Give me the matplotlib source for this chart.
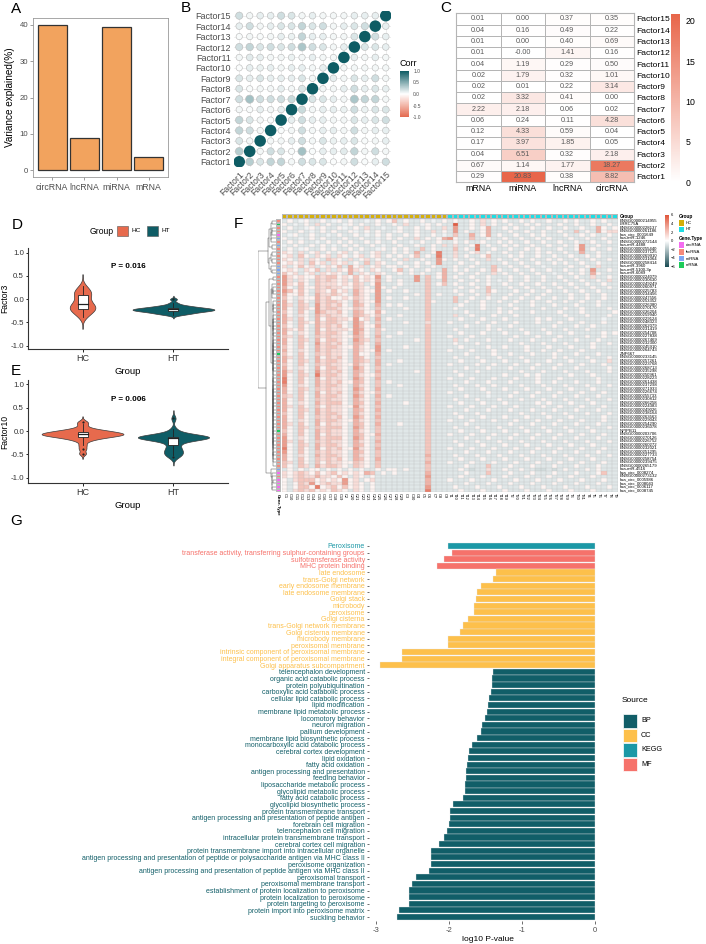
import numpy as np
import matplotlib
matplotlib.use("Agg")
import matplotlib.pyplot as plt
from matplotlib.colors import LinearSegmentedColormap, ListedColormap, Normalize
from matplotlib.patches import Rectangle
from matplotlib.cm import ScalarMappable

plt.rcParams['font.family'] = ['Liberation Sans', 'DejaVu Sans']
plt.rcParams['axes.linewidth'] = 0.6

# ======================= DATA =======================
# --- A
views = ['circRNA', 'lncRNA', 'miRNA', 'mRNA']
var_explained = [40.0, 8.9, 39.4, 3.7]

# --- B (lower triangle of factor correlation, row i has i values)
factor_names = ['Factor1', 'Factor2', 'Factor3', 'Factor4', 'Factor5', 'Factor6', 'Factor7', 'Factor8',
                'Factor9', 'Factor10', 'Factor11', 'Factor12', 'Factor13', 'Factor14', 'Factor15']
corr_lower = [
    [],
    [0.30],
    [0.15, 0.05],
    [0.25, 0.20, 0.05],
    [0.25, 0.15, 0.05, 0.03],
    [0.05, 0.03, 0.10, 0.05, 0.10],
    [0.20, 0.38, 0.20, 0.20, 0.20, 0.22],
    [0.15, 0.03, 0.05, 0.05, 0.10, 0.05, 0.15],
    [0.15, 0.10, 0.15, 0.10, 0.10, 0.10, 0.15, 0.05],
    [0.02, 0.10, 0.08, 0.10, 0.05, 0.10, 0.10, 0.05, 0.10],
    [0.05, 0.12, 0.10, 0.05, 0.05, 0.08, 0.05, 0.10, 0.05, 0.05],
    [0.20, 0.25, 0.15, 0.20, 0.15, 0.20, 0.35, 0.20, 0.15, 0.05, 0.10],
    [0.03, 0.05, 0.03, 0.05, 0.10, 0.08, 0.25, 0.10, 0.10, 0.05, 0.05, 0.15],
    [0.10, 0.20, 0.05, 0.10, 0.15, 0.15, 0.25, 0.15, 0.20, 0.05, 0.10, 0.15, 0.20],
    [0.20, 0.05, 0.10, 0.10, 0.20, 0.15, 0.05, 0.10, 0.05, 0.05, 0.05, 0.10, 0.10, 0.10],
]

# --- C (variance explained per factor and view), rows top->bottom
c_factors = ['Factor15', 'Factor14', 'Factor13', 'Factor12', 'Factor11', 'Factor10', 'Factor9', 'Factor8',
             'Factor7', 'Factor6', 'Factor5', 'Factor4', 'Factor3', 'Factor2', 'Factor1']
c_views = ['mRNA', 'miRNA', 'lncRNA', 'circRNA']
c_mrna = [0.01, 0.04, 0.01, 0.01, 0.04, 0.02, 0.02, 0.02, 2.22, 0.06, 0.12, 0.17, 0.04, 0.67, 0.29]
c_mirna = [0.00, 0.16, 0.00, -0.0, 1.19, 1.79, 0.01, 3.32, 2.18, 0.24, 4.33, 3.97, 6.51, 1.14, 20.83]
c_lnc = [0.37, 0.49, 0.40, 1.41, 0.29, 0.32, 0.22, 0.41, 0.06, 0.11, 0.59, 1.85, 0.32, 1.77, 0.38]
c_circ = [0.35, 0.22, 0.69, 0.16, 0.50, 1.01, 3.14, 0.00, 0.02, 4.28, 0.04, 0.05, 2.18, 18.27, 8.82]

# --- D / E (factor values per sample)
groups = ['HC', 'HT']
f3_hc = [0.28, 0.25, 0.21, 0.18, 0.16, 0.14, 0.12, 0.10, 0.08, 0.05, 0.02, -0.02, -0.06, -0.09, -0.10,
         -0.11, -0.13, -0.15, -0.17, -0.18, -0.20, -0.21, -0.22, -0.23, -0.24, -0.26, -0.29, -0.32, -0.36, -0.38]
f3_ht = [0.00, -0.08, -0.12, -0.14, -0.15, -0.16, -0.17, -0.18, -0.19, -0.19, -0.20, -0.20, -0.21, -0.21,
         -0.22, -0.22, -0.23, -0.23, -0.24, -0.24, -0.25, -0.25, -0.26, -0.26, -0.27, -0.28, -0.29, -0.30,
         -0.31, -0.32, -0.34]
f10_hc = [0.20, 0.15, 0.08, 0.04, 0.02, 0.01, 0.00, -0.01, -0.02, -0.03, -0.04, -0.05, -0.05, -0.06, -0.07,
          -0.07, -0.08, -0.08, -0.09, -0.10, -0.11, -0.12, -0.13, -0.14, -0.16, -0.18, -0.22, -0.30, -0.38, -0.48]
f10_ht = [0.27, 0.04, -0.03, -0.07, -0.09, -0.10, -0.11, -0.12, -0.12, -0.13, -0.13, -0.13, -0.14, -0.14,
          -0.14, -0.15, -0.15, -0.15, -0.16, -0.17, -0.19, -0.22, -0.27, -0.32, -0.36, -0.40, -0.43, -0.46,
          -0.49, -0.52, -0.56]
p_f3 = 'P = 0.016'
p_f10 = 'P = 0.006'

# --- F heatmap (level codes per cell; HC 30 samples, HT 31 samples)
level_codes = {'_': -1.6, ':': -1.2, '.': -0.8, ',': -0.4, 'o': 0.4, '1': 1.2, '2': 2.0, '3': 2.7,
               '4': 3.5, '5': 4.5, '6': 5.7}
hc_samples = ['C1', 'C10', 'C11', 'C12', 'C13', 'C14', 'C15', 'C16', 'C17', 'C18', 'C19', 'C2', 'C20', 'C21',
              'C22', 'C23', 'C24', 'C25', 'C26', 'C27', 'C28', 'C29', 'C3', 'C30', 'C4', 'C5', 'C6', 'C7', 'C8', 'C9']
ht_samples = ['T1', 'T10', 'T11', 'T12', 'T13', 'T14', 'T15', 'T16', 'T17', 'T18', 'T19', 'T2', 'T20', 'T21',
              'T22', 'T23', 'T24', 'T25', 'T26', 'T27', 'T28', 'T29', 'T3', 'T30', 'T31', 'T4', 'T5', 'T6', 'T7',
              'T8', 'T9']
gene_types = ("lmllcili" "lllll" "iii" "llllllllllllllllllllll" "m" "lllllllllllllllllllll" "m"
              "llllllllll" "i" "c" "l" "cccc")
hc_rows = [
    ".o.,o..o.," "o.o..,.o.o" "2.o..o.,.o",
    "o.,.o.1.o." ".,o.o..o.." "o.1..,o.o.",
    ".o..,o.o.." "o,.o.1..,." ".o..o.o..1",
    "o..o.,.o.o" "..o,.o.o.." ",o..o..1.o",
    ".,o..o..,." "o..o.,.o.o" "..o.o..o.,",
    "o..,.o.o.." ".o..o..,.o" ".o..1.o.o3",
    ".o.o..,.o." "o.o..o.o.." "o..,.o..o.",
    ",.o..o.o.," ".o.o..o.,." ".o..o..o.1",
    ".o.,o..o.o" "..o.o..,o." "o.o..2.o..",
    "1o.1.o1.o." "o1.o..o1.." "o.o.3..o5.",
    "o1.2o.1o1." "1o.o1.o1.o" ".o.o2.o.5.",
    "1o.1.1o.21" "o.1.o1.o.." "o.1..o..4o",
    "o1o1.2o1.1" "o1.o.2.1o." ".o..o.o.4.",
    "1.o2o1.o1o" "2.3o1.o1.o" "o.o.o..o..",
    "o1o.1o2.1." "1o31o.1o.." "o2.o..o..3",
    "2o1.o1.1o1" "o.3.1o.1o." ".o.o.o..o3",
    "41o1oo2122" "o1o2o1o4.o" "....4.2.o3",
    "41.1o.2121" "o1.2o1o3.o" ".o..4.2..3",
    "41o2o.2111" "o1o21.o4.." ".o....2.o2",
    "3o.2oo2121" "1oo21o.4o." "o.....2...",
    "42o2o.21o2" "o1.31oo4.o" "..o...2...",
    "3oo2o.3112" "1o.31o.4.." "....o.2.o.",
    "2o.1oo312o" "o1o21o.4.o" "..o...2...",
    "3o.2o.3122" "1o.31oo4.." "......2o..",
    "31.21.4121" "2o.32o.3.o" ".o....2...",
    "3o.21o4122" "1oo21o.2.." "..o...2...",
    "2o.2o.4211" "2o.32oo3o." "......2...",
    "3o.1o.3121" "1o.321o2.." ".o....2...",
    "31.2o.3o22" "11o4o1.3.o" "......2...",
    "3o.21o3122" "1o.42o.2.." "..o...1...",
    "2o.2o.3121" "2o.42oo3.." "......2...",
    "31o2o.3o21" "11o43o.2o." "......2...",
    "3o.1o.3122" "1o.42o.2.." ".o....2...",
    "21.2o.2121" "1oo32o.3.o" "......2...",
    "3o.21.3o22" "1o.421.2.." "....o.2...",
    "3o.2o.4121" "2o.32o.3.." "......2...",
    "2o.2o.3122" "1oo31o.4.." "..o...2...",
    "3o.1o.3121" "1o.31oo4.o" "......2...",
    "2o.2o.2121" "1o.3oo.3.." "......2...",
    "31.2o.3o21" "2o.32o.2.." "......2...",
    "3o.21.3122" "1o.321.3.." ".o....2...",
    "2o.2o.2121" "1oo31o.3.o" "......2...",
    "3o.1o.3o22" "1o.42o.2.." "......2...",
    "41.2o.4121" "2o.32o.3.." "....o.2...",
    "4o.21.5122" "1o.31oo2.." "......2...",
    "5o.2o.3o21" "1o.42o.3.." "......2...",
    "5o.2o.3121" "2oo32o.2.o" "......2...",
    "4o.1o.3122" "1o.31o.2.." ".o....2...",
    "3o.21.2121" "1o.42o.3.." "......2...",
    "3o.2o.3o21" "2o.31oo2.." "......2...",
    "21.2o.3122" "1o.42o.3.o" "......2...",
    "3o.2o.2121" "1o.31o.2.." "......2...",
    "3o.1o.3122" "2o.32o.3.." "..o...2...",
    "31.2o.2o21" "1oo41o.2.." "......2...",
    "3o.21.3121" "1o.32o.3.." "......2...",
    "2o.2o.3122" "1o.31o.2.." "......2...",
    "3o.2o.2121" "2o.42o.3.." "......2...",
    "3o.1o.3122" "1oo31o.2.." "......2...",
    "31.2o.3o21" "1o.32o.3.." ".o....2...",
    "3o.21.2122" "2o.42o.2.." "......2...",
    "2o.2o.3121" "1o.31o.2.." "......2...",
    "3o.2o.3o21" "1o.32oo3.." "......2...",
    "4o.1o.3122" "2o.42o.2.." "......2...",
    "41.2o.2121" "1o.31o.3.." "......2...",
    "4o.21.3122" "1o.32o.2.." "......2...",
    "5o.2o.3o21" "2oo41o.3.." "......2...",
    "4o.2o.2121" "1o.32o.2.." "......2...",
    "3o.1o.3122" "1o.31o.2.." "......3...",
    "3o.2o.2121" "2o.32o.3.." "......2...",
    "21.2o.2o21" "1oo21o.2.." "......3...",
    "2o.21.3122" "1o.21o.2.." "......2...",
    ".o.o.oo.o." "o.o.o..o.o" "o.o...2...",
    "1o121o2o12" "o1o1o32.o." "o.....3...",
    "1o1211311o" "2o.1o.o..." "......4...",
    "o.1222o1o1" "o4o1.o1..." "......3...",
    "o.o214o121" "14o1o.o..." "......3...",
    "o.o22o5o12" "o2o1o.o..." "......4...",
    "o.1212o1o2" "1o.1o.o..." "......5...",
]
ht_rows = [
    ".o..o.1.o." "o..o.o..o." ".o.o..o.o..",
    ".6..o.1.o." ".o..o.o..." "o..o..o..o.",
    ".4..o.o3.." "o.o..o..o." ".o..o..3o.o",
    ".4.o..o3.." ".o..o..o.." "o..2.o.3o11",
    ".2..3.o3.o" "..o..o.o.." ".o..o.o..o.",
    "4o..2..o.." "o..o..o.o." "..o..o..o..",
    ".o.o..o..o" ".o..o..o.." "o..o..o..o.",
    ".1..o5.o.." "o.o..o..o." ".o.o4..o...",
    ".2.o.5..o." ".o..o.o..." "o..o4.o..o.",
    ".1..o1.o.." "o..o..o.o." ".o..3..o...",
    ".1.o..o2.." ".o.o..o..o" "..o..o.o...",
    ".o..o..1.o" "..o..o..o." "o..o..o..o.",
    "..o..o...." "o..o..o..o" ".o..o..o...",
    ".o..o...2." ".o..o..,.." "..o..o.1...",
    ".o.o..o.2o" "..o..o..o." ".o..o.4..o.",
    "..o..o..1." "o..o..o..," "..o.o.3o...",
    ".o..o..o.." ".o..o..o.." "o..o..1..o.",
    "..o..o.o.," ".o..o..o.." ".o..o..o.1.",
    ".o..o..o.." "o..o..o..o" "..o..o..o..",
    "..o..o.2.." ".o..o..o.." "o..o..o..o.",
    ".o..o..2o." "..o..o..o." ".o..o..o...",
    "..o..o.1.." ".o..o..o.." "..o..o..o..",
    ".2..o..o.." "o..o..o..o" "..o..o..o..",
    ".2.o..o..o" "..o..o..o." ".o..o..o...",
    "..o...o..." ".o...o...o" "...o...o...",
    ".o....o..o" "..o....o.." ".o..o....o.",
    "...o.....o" ".o...o...." "o...o.....o",
    ".1..o...o." "..o......." ".o...o...o.",
    "..o...o..." "o.....o.o." "..o.....,..",
    "o....o..o." "..o...o..." "o...o...o..",
    "...o...o.." ".o.......o" "...o..o....",
    ".o.....o.o" "...o...o.." ".o...o.....",
    "..o...o..." "o...o...o." "..o.....o.o",
    "o...o....." "..o...o..." "o....o..o..",
    ".1.o...o.." ".o...o...o" "...o...o...",
    ".o...o...." "...o...o.." ".o....o..o.",
    "..o....o.." "o...o...o." "..o...o....",
    "o...o...o." "....o..o.." "o...o......",
    "...o....o." ".o...o...o" "...o...o...",
    ".o...o...o" "...o.....o" ".o...o...o.",
    "..o...o..." "o...o...o." "..o...o..1.",
    "o....o..o." "..o...o..." "o...o...o..",
    "...o...o.." ".o...o...o" "...o.....o.",
    ".o...o...." "...o...o.." ".o...o...o.",
    "..o......." "o...o.o..." "..o...o....",
    "o...o...o." "..o...o..." "o......o...",
    "...o...o.." ".o....o..o" "...o...o...",
    ".o...o..o." "...o...o.." ".o...o...o.",
    "..o...o..." "o...o...o." "..o...o....",
    "o......o.." "..o...o..." "o...o...o..",
    "...o...,.." ".o...o...o" "...o...o...",
    ".o...o...o" "...o...o.." ".o...o...o.",
    "..o...o..." "o.....o.o." "..o...o....",
    "o...o...o." "..o....o.." "o...o...o..",
    "...o...o.." ".o...o...o" "...o...o...",
    ".o...o...." "...o...o.." ".o...o...o.",
    "..o...o..." "o...o...o." "..o.....o..",
    "o...o...o." "..o...o..." "o...o...o..",
    "...o......" ".o...o...o" "...o...o...",
    ".o...o...o" "...o...o.." ".o...o...o.",
    "..o...o..." "o...o...o." "..o...o....",
    "o...o...o." "..o...o..." "o...o...o..",
    "...o...o.." ".o...o...o" "...o...o...",
    ".o...o...o" "...o...o.." ".o...o...o.",
    "..o...o..." "o...o...o." "..o...o....",
    "o...o...o." "..o...o..." "o...o...o..",
    "...o...o.." ".o...o...o" "...o...o...",
    ".o...o...o" "...o...o.." ".o...o...o.",
    "..o...o..." "o...o...o." "..o...o....",
    "o...o...o." "..o...o..." "o...o...o..",
    "...o...2.." ".o...o...o" "...o...o...",
    "..o.:..1.." "o..o..::.:" ".o...o.o...",
    "...o...2.." ".o...o...o" "...o...o2..",
    "..o...o..." "o...o...o." "..o...o....",
    "o...o...o." "..o...o..." "o...o...o..",
    "...o...o.." ".o...o...o" "...o...o...",
    ".o...o...o" "...o...o.." ".o...o...o.",
    "..o...o..." "o...o...o." "..o...o....",
]
lnc_ids = ['ENSG00000214955', 'ENSG00000228137', 'ENSG00000261186', 'ENSG00000272144', 'ENSG00000255440',
           'ENSG00000237125', 'ENSG00000269910', 'ENSG00000231064', 'ENSG00000258414', 'ENSG00000224079',
           'ENSG00000230630', 'ENSG00000249249', 'ENSG00000260971', 'ENSG00000225783', 'ENSG00000234456',
           'ENSG00000247556', 'ENSG00000253352', 'ENSG00000226380', 'ENSG00000270170', 'ENSG00000236204',
           'ENSG00000259940', 'ENSG00000229124', 'ENSG00000248323', 'ENSG00000262079', 'ENSG00000231419',
           'ENSG00000254708', 'ENSG00000227838', 'ENSG00000267469', 'ENSG00000232300', 'ENSG00000245910',
           'ENSG00000264743', 'ENSG00000233145', 'ENSG00000257261', 'ENSG00000223768', 'ENSG00000268713',
           'ENSG00000235298', 'ENSG00000250961', 'ENSG00000228223', 'ENSG00000261438', 'ENSG00000237298',
           'ENSG00000271933', 'ENSG00000226674', 'ENSG00000255733', 'ENSG00000230812', 'ENSG00000266258',
           'ENSG00000224383', 'ENSG00000249026', 'ENSG00000238164', 'ENSG00000263563', 'ENSG00000229043',
           'ENSG00000254290', 'ENSG00000236078', 'ENSG00000203706', 'ENSG00000270126', 'ENSG00000226752',
           'ENSG00000260272', 'ENSG00000232021', 'ENSG00000251295', 'ENSG00000227733', 'ENSG00000258754',
           'ENSG00000239475', 'ENSG00000265179', 'ENSG00000273132']
mrna_ids = ['LRRC75A', 'ZNF667', 'NPIPB11']
mirna_ids = ['hsa-miR-1246', 'hsa-miR-4488', 'hsa-miR-3960', 'hsa-miR-5100-3p', 'hsa-miR-6089', 'hsa-miR-4516']
circ_ids = ['hsa_circ_0001649', 'hsa_circ_0008274', 'hsa_circ_0005986', 'hsa_circ_0008043',
            'hsa_circ_0006117', 'hsa_circ_0008745']

# --- G enrichment
g_terms = [
    'Peroxisome',
    'transferase activity, transferring sulphur-containing groups', 'sulfotransferase activity',
    'MHC protein binding',
    'late endosome', 'trans-Golgi network', 'early endosome membrane', 'late endosome membrane',
    'Golgi stack', 'microbody', 'peroxisome', 'Golgi cisterna', 'trans-Golgi network membrane',
    'Golgi cisterna membrane', 'microbody membrane', 'peroxisomal membrane',
    'intrinsic component of peroxisomal membrane', 'integral component of peroxisomal membrane',
    'Golgi apparatus subcompartment',
    'telencephalon development', 'organic acid catabolic process', 'protein polyubiquitination',
    'carboxylic acid catabolic process', 'cellular lipid catabolic process', 'lipid modification',
    'membrane lipid metabolic process', 'locomotory behavior', 'neuron migration', 'pallium development',
    'membrane lipid biosynthetic process', 'monocarboxylic acid catabolic process',
    'cerebral cortex development', 'lipid oxidation', 'fatty acid oxidation',
    'antigen processing and presentation', 'feeding behavior', 'liposaccharide metabolic process',
    'glycolipid metabolic process', 'fatty acid catabolic process', 'glycolipid biosynthetic process',
    'protein transmembrane transport', 'antigen processing and presentation of peptide antigen',
    'forebrain cell migration', 'telencephalon cell migration',
    'intracellular protein transmembrane transport', 'cerebral cortex cell migration',
    'protein transmembrane import into intracellular organelle',
    'antigen processing and presentation of peptide or polysaccharide antigen via MHC class II',
    'peroxisome organization', 'antigen processing and presentation of peptide antigen via MHC class II',
    'peroxisomal transport', 'peroxisomal membrane transport',
    'establishment of protein localization to peroxisome', 'protein localization to peroxisome',
    'protein targeting to peroxisome', 'protein import into peroxisome matrix', 'suckling behavior']
g_source = ['KEGG'] + ['MF'] * 3 + ['CC'] * 15 + ['BP'] * 38
g_log10p = [-2.01,
            -1.95, -2.07, -2.16,
            -1.36, -1.40, -1.56, -1.62, -1.63, -1.66, -1.66, -1.74, -1.80, -1.85, -2.01, -2.01, -2.64, -2.64,
            -2.94,
            -1.39, -1.41, -1.41, -1.42, -1.45, -1.47, -1.48, -1.51, -1.55, -1.56, -1.62, -1.69, -1.73, -1.74,
            -1.75, -1.77, -1.77, -1.78, -1.78, -1.80, -1.94, -1.99, -1.99, -2.00, -2.02, -2.07, -2.13, -2.24,
            -2.24, -2.25, -2.27, -2.45, -2.50, -2.55, -2.55, -2.55, -2.68, -2.71]
g_sources_order = ['BP', 'CC', 'KEGG', 'MF']

# ======================= STYLE =======================
W, H = 706, 944
fig = plt.figure(figsize=(W / 100, H / 100), dpi=100)
TICKC = '#4D4D4D'
HC_COL, HT_COL = '#E76A4D', '#0F5D66'
SRC_COL = {'BP': '#115E68', 'CC': '#FDC04B', 'KEGG': '#1B98A6', 'MF': '#F6726B'}
TYPE_COL = {'c': '#F46CF0', 'l': '#F58A7C', 'i': '#7EA7F5', 'm': '#1ECB5A'}


def add_ax(x0, y0, x1, y1):
    return fig.add_axes([x0 / W, 1 - y1 / H, (x1 - x0) / W, (y1 - y0) / H])


def ftext(x, y, s, **kw):
    fig.text(x / W, 1 - y / H, s, **kw)


def fbox(x0, y0, x1, y1, fc, ec='none', lw=0.5):
    fig.add_artist(Rectangle((x0 / W, 1 - y1 / H), (x1 - x0) / W, (y1 - y0) / H,
                             transform=fig.transFigure, facecolor=fc, edgecolor=ec, linewidth=lw))


def panel_letter(x, y, s):
    ftext(x, y, s, fontsize=11, ha='center', va='center')


# ======================= A =======================
axA = add_ax(33, 18, 168, 177)
xa = np.arange(1, len(views) + 1)
axA.bar(xa, var_explained, width=0.9, color='#F2A35E', edgecolor='#333333', linewidth=0.9)
axA.set_xlim(0.4, 4.6)
axA.set_ylim(-1.93, 41.93)
axA.set_xticks(xa)
axA.set_xticklabels(views, fontsize=6.3, color=TICKC)
axA.set_yticks([0, 10, 20, 30, 40])
axA.tick_params(axis='y', labelsize=5.6, labelcolor=TICKC, length=2, width=0.5, color='#777', pad=1.5)
axA.tick_params(axis='x', length=2, width=0.5, color='#777', pad=2)
axA.set_ylabel('Variance explained(%)', fontsize=7.2, labelpad=3)
for s in axA.spines.values():
    s.set_color('#999999')
panel_letter(16, 9, 'A')

# ======================= B =======================
nF = len(factor_names)
corr = np.eye(nF)
for i, row in enumerate(corr_lower):
    for j, v in enumerate(row):
        corr[i, j] = v
        corr[j, i] = v
cmap_corr = LinearSegmentedColormap.from_list('corr', ['#E46A4F', '#FFFFFF', '#0E5C64'])
norm_corr = Normalize(-1, 1)
axB = add_ax(234, 10.5, 391, 167)
axB.set_xlim(0.5, nF + 0.5)
axB.set_ylim(0.5, nF + 0.5)
for k in range(1, nF + 1):
    axB.axhline(k, color='#E6E6E6', lw=0.5, zorder=0)
    axB.axvline(k, color='#E6E6E6', lw=0.5, zorder=0)
xs, ys, cs, ss, ecs = [], [], [], [], []
for i in range(nF):
    for j in range(nF):
        r = corr[i, j]
        d_px = 10.5 * (0.58 + 0.52 * abs(r))
        xs.append(j + 1)
        ys.append(i + 1)
        cs.append(cmap_corr(norm_corr(r)))
        ss.append((d_px * 0.72) ** 2)
        ecs.append('none' if i == j else '#BDBDBD')
axB.scatter(xs, ys, s=ss, c=cs, edgecolors=ecs, linewidths=0.45, zorder=2)
axB.set_xticks(range(1, nF + 1))
axB.set_yticks(range(1, nF + 1))
axB.set_xticklabels(factor_names, rotation=45, ha='right', va='top', rotation_mode='anchor',
                    fontsize=6.3, color=TICKC)
axB.set_yticklabels(factor_names, fontsize=6.5, color=TICKC)
axB.tick_params(length=0, pad=2)
for s in axB.spines.values():
    s.set_visible(False)
panel_letter(186, 8, 'B')
# Corr legend
ftext(400, 63, 'Corr', fontsize=6.5, ha='left', va='center')
caxB = add_ax(400, 71, 409, 117)
cbB = fig.colorbar(ScalarMappable(norm=norm_corr, cmap=cmap_corr), cax=caxB)
cbB.outline.set_visible(False)
cbB.set_ticks([-1, -0.5, 0, 0.5, 1])
cbB.set_ticklabels(['-1.0', '-0.5', '0.0', '0.5', '1.0'])
caxB.tick_params(labelsize=3.5, length=1.5, width=0.4, color='white', pad=1.5, labelcolor=TICKC)

# ======================= C =======================
cvals = np.array([c_mrna, c_mirna, c_lnc, c_circ]).T
cmap_c = LinearSegmentedColormap.from_list('cvar', ['#FFFFFF', '#E8664A'])
norm_c = Normalize(0, max(max(c_mirna), max(c_circ)))
axC = add_ax(456, 13.3, 634, 182.3)
axC.pcolormesh(np.arange(5), np.arange(16), cvals, cmap=cmap_c, norm=norm_c,
               edgecolors='#B5B5B5', linewidth=0.7)
axC.set_xlim(0, 4)
axC.set_ylim(15, 0)
for i in range(cvals.shape[0]):
    for j in range(cvals.shape[1]):
        axC.text(j + 0.5, i + 0.5, f'{cvals[i, j]:.2f}', ha='center', va='center', fontsize=5.2,
                 color='#5A5A5A')
axC.set_xticks(np.arange(4) + 0.5)
axC.set_xticklabels(c_views, fontsize=6.4)
axC.set_yticks(np.arange(15) + 0.5)
axC.set_yticklabels(c_factors, fontsize=6.1)
axC.yaxis.tick_right()
axC.tick_params(length=0, pad=1.5)
for s in axC.spines.values():
    s.set_color('#B5B5B5')
    s.set_linewidth(0.8)
panel_letter(446, 8, 'C')
caxC = add_ax(671, 14, 680, 182)
cbC = fig.colorbar(ScalarMappable(norm=norm_c, cmap=cmap_c), cax=caxC)
cbC.outline.set_visible(False)
cbC.set_ticks([0, 5, 10, 15, 20])
caxC.tick_params(labelsize=6.3, length=0, pad=4)


# ======================= D / E =======================
def nrd0(x):
    x = np.asarray(x)
    sd = x.std(ddof=1)
    q75, q25 = np.percentile(x, [75, 25])
    lo = min(sd, (q75 - q25) / 1.34) if q75 > q25 else sd
    return 0.9 * lo * len(x) ** -0.2


def kde_curve(x):
    x = np.asarray(x)
    bw = nrd0(x)
    grid = np.linspace(x.min() - 3 * bw, x.max() + 3 * bw, 400)
    dens = np.exp(-0.5 * ((grid[:, None] - x[None, :]) / bw) ** 2).sum(1) / (len(x) * bw * np.sqrt(2 * np.pi))
    return grid, dens


def violin_panel(ax, data_list, colors):
    curves = [kde_curve(d) for d in data_list]
    dmax = max(c[1].max() for c in curves)
    for i, (d, (g, den), col) in enumerate(zip(data_list, curves, colors)):
        pos = i + 1
        w = den / dmax * 0.45
        ax.fill_betweenx(g, pos - w, pos + w, facecolor=col, edgecolor='#3A3A3A', linewidth=0.5, zorder=2)
        arr = np.asarray(d)
        q1, med, q3 = np.percentile(arr, [25, 50, 75])
        iqr = q3 - q1
        lo_f, hi_f = q1 - 1.5 * iqr, q3 + 1.5 * iqr
        inside = arr[(arr >= lo_f) & (arr <= hi_f)]
        ax.plot([pos, pos], [inside.min(), q1], color='#222222', lw=0.6, zorder=3)
        ax.plot([pos, pos], [q3, inside.max()], color='#222222', lw=0.6, zorder=3)
        ax.add_patch(Rectangle((pos - 0.055, q1), 0.11, q3 - q1, facecolor='white', edgecolor='#222222',
                               linewidth=0.6, zorder=4))
        ax.plot([pos - 0.055, pos + 0.055], [med, med], color='#222222', lw=0.9, zorder=5)
        out = arr[(arr < lo_f) | (arr > hi_f)]
        ax.scatter(np.full(len(out), pos), out, s=2.5, color='#222222', zorder=5, linewidths=0)


def style_violin_ax(ax, ylabel, ylim):
    ax.set_xlim(0.4, 2.6)
    ax.set_ylim(*ylim)
    ax.set_xticks([1, 2])
    ax.set_xticklabels(groups, fontsize=6.5, color='#333333')
    ax.set_yticks([-1.0, -0.5, 0.0, 0.5, 1.0])
    ax.set_yticklabels(['-1.0', '-0.5', '0.0', '0.5', '1.0'], fontsize=5.7, color='#333333')
    ax.tick_params(axis='y', length=1.8, width=0.6, pad=1)
    ax.tick_params(axis='x', length=2, width=0.6, pad=1.5)
    ax.set_ylabel(ylabel, fontsize=6.2, labelpad=0.8)
    ax.set_xlabel('Group', fontsize=6.8, labelpad=3)
    for k in ['top', 'right']:
        ax.spines[k].set_visible(False)
    for k in ['left', 'bottom']:
        ax.spines[k].set_color('#333333')
        ax.spines[k].set_linewidth(0.8)


axD = add_ax(28, 248, 228, 349)
violin_panel(axD, [f3_hc, f3_ht], [HC_COL, HT_COL])
style_violin_ax(axD, 'Factor3', (-1.07, 1.10))
axD.text(1.5, 0.70, p_f3, ha='center', va='center', fontsize=5.8, fontweight='bold')
panel_letter(17, 225, 'D')
ftext(90, 231, 'Group', fontsize=6.2, ha='left', va='center')
fbox(117, 226.5, 128, 235.5, HC_COL, ec='#555555', lw=0.4)
ftext(131, 231, 'HC', fontsize=4.6, ha='left', va='center')
fbox(147, 226.5, 158, 235.5, HT_COL, ec='#555555', lw=0.4)
ftext(161, 231, 'HT', fontsize=4.6, ha='left', va='center')

axE = add_ax(28, 380, 228, 483)
violin_panel(axE, [f10_hc, f10_ht], [HC_COL, HT_COL])
style_violin_ax(axE, 'Factor10', (-1.11, 1.09))
axE.text(1.5, 0.68, p_f10, ha='center', va='center', fontsize=5.8, fontweight='bold')
panel_letter(16, 371, 'E')

# ======================= F =======================
nHC, nHT = len(hc_samples), len(ht_samples)
M = np.array([[level_codes[c] for c in (h.ljust(nHC, '.')[:nHC] + t.ljust(nHT, '.')[:nHT])]
              for h, t in zip(hc_rows, ht_rows)])
nR, nC = M.shape
cmap_h = LinearSegmentedColormap.from_list('hm', ['#1E4F57', '#FFFFFF', '#E0553A'])
norm_h = Normalize(-6, 6)
hx0, hx1, hy0, hy1 = 281.7, 618, 219, 492
GRIDC = '#B9B9B9'
axF = add_ax(hx0, hy0, hx1, hy1)
axF.pcolormesh(np.arange(nC + 1), np.arange(nR + 1), M, cmap=cmap_h, norm=norm_h, edgecolors='none')
axF.hlines(np.arange(nR + 1), 0, nC, colors=GRIDC, linewidth=0.2)
axF.vlines(np.arange(nC + 1), 0, nR, colors=GRIDC, linewidth=0.25)
axF.set_xlim(0, nC)
axF.set_ylim(nR, 0)
axF.axis('off')
# row labels
pools = {'l': list(lnc_ids), 'm': list(mrna_ids), 'i': list(mirna_ids), 'c': list(circ_ids)}
row_labels = [pools[t].pop(0) for t in gene_types]
for i, lab in enumerate(row_labels):
    axF.text(nC + 0.35, i + 0.5, lab, fontsize=3.1, ha='left', va='center', clip_on=False)
for j, lab in enumerate(hc_samples + ht_samples):
    axF.text(j + 0.5, nR + 0.4, lab, fontsize=2.9, rotation=270, ha='center', va='top', clip_on=False)
# group annotation
axFa = add_ax(hx0, 214, hx1, hy0)
grp = np.array([[0] * nHC + [1] * nHT])
axFa.pcolormesh(np.arange(nC + 1), [0, 1], grp, cmap=ListedColormap(['#D4AF0B', '#1FDDE3']),
                edgecolors=GRIDC, linewidth=0.15)
axFa.set_xlim(0, nC)
axFa.axis('off')
ftext(620, 216.5, 'Group', fontsize=3.3, fontweight='bold', ha='left', va='center')
# gene type sidebar
type_order = ['c', 'l', 'i', 'm']
tmat = np.array([[type_order.index(t)] for t in gene_types])
axFs = add_ax(275.7, hy0, 280.7, hy1)
axFs.pcolormesh([0, 1], np.arange(nR + 1), tmat,
                cmap=ListedColormap([TYPE_COL[t] for t in type_order]), vmin=-0.5, vmax=3.5,
                edgecolors=GRIDC, linewidth=0.12)
axFs.set_ylim(nR, 0)
axFs.axis('off')
ftext(278.2, 494, 'Gene.Type', fontsize=3.2, fontweight='bold', rotation=270, ha='center', va='top')


# dendrogram (adjacent-merge agglomerative clustering on the heatmap rows)
def adjacent_dendrogram(X):
    clusters = [(X[i].copy(), 1, i + 0.5, 0.0) for i in range(len(X))]
    segs = []
    while len(clusters) > 1:
        dists = []
        for k in range(len(clusters) - 1):
            a, b = clusters[k], clusters[k + 1]
            dists.append(np.linalg.norm(a[0] - b[0]) * np.sqrt(a[1] * b[1] / (a[1] + b[1])))
        k = int(np.argmin(dists))
        a, b = clusters[k], clusters[k + 1]
        h = max(dists[k], a[3], b[3])
        segs.append(([a[3], h, h, b[3]], [a[2], a[2], b[2], b[2]]))
        n = a[1] + b[1]
        clusters[k:k + 2] = [((a[0] * a[1] + b[0] * b[1]) / n, n, (a[2] + b[2]) / 2, h)]
    return segs


axFd = add_ax(258, hy0, 275.5, hy1)
dsegs = adjacent_dendrogram(M)
hmax = max(max(s[0]) for s in dsegs)
for xs_, ys_ in dsegs:
    axFd.plot(xs_, ys_, color='#555555', lw=0.35)
axFd.set_xlim(hmax * 1.01, 0)
axFd.set_ylim(nR, 0)
axFd.axis('off')
panel_letter(238, 224, 'F')
# F legends
caxF = add_ax(665, 215, 668.5, 266.5)
cbF = fig.colorbar(ScalarMappable(norm=norm_h, cmap=cmap_h), cax=caxF)
cbF.outline.set_visible(False)
cbF.set_ticks([-6, -4, -2, 0, 2, 4, 6])
caxF.tick_params(labelsize=3.0, length=0, pad=1.5)
ftext(678.5, 216.5, 'Group', fontsize=3.4, fontweight='bold', ha='left', va='center')
fbox(678.7, 219.8, 684.3, 225.8, '#D4AF0B')
ftext(686, 222.8, 'HC', fontsize=3.1, ha='left', va='center')
fbox(678.7, 226.6, 684.3, 232.4, '#1FDDE3')
ftext(686, 229.5, 'HT', fontsize=3.1, ha='left', va='center')
ftext(678.5, 239, 'Gene.Type', fontsize=3.4, fontweight='bold', ha='left', va='center')
type_names = {'c': 'circRNA', 'l': 'lncRNA', 'i': 'miRNA', 'm': 'mRNA'}
for k, t in enumerate(type_order):
    y0 = 242.3 + k * 6.6
    fbox(678.7, y0, 684.3, y0 + 5.9, TYPE_COL[t])
    ftext(686, y0 + 3.0, type_names[t], fontsize=3.1, ha='left', va='center')

# ======================= G =======================
axG = add_ax(369, 542, 606, 921)
yg = np.arange(len(g_terms))
axG.barh(yg, g_log10p, height=0.92, color=[SRC_COL[s] for s in g_source], edgecolor='#E8E8E8',
         linewidth=0.25)
axG.set_ylim(len(g_terms) - 0.4, -0.6)
axG.set_xlim(-3.09, 0.147)
axG.set_yticks(yg)
axG.set_yticklabels(g_terms, fontsize=5.0)
for lab, s in zip(axG.get_yticklabels(), g_source):
    lab.set_color(SRC_COL[s])
axG.set_xticks([-3, -2, -1, 0])
axG.set_xticklabels(['-3', '-2', '-1', '0'])
axG.tick_params(axis='y', length=1.5, width=0.5, color='#333333', pad=1.5)
axG.tick_params(axis='x', length=2, width=0.5, color='#333333', labelsize=5.5, labelcolor=TICKC, pad=2)
axG.set_xlabel('log10 P-value', fontsize=6.0, labelpad=2)
for s in axG.spines.values():
    s.set_visible(False)
panel_letter(16, 521, 'G')
ftext(622, 701, 'Source', fontsize=6.0, ha='left', va='center')
for k, src in enumerate(g_sources_order):
    y0 = 714 + k * 14.5
    fbox(623, y0, 636.5, y0 + 13.5, SRC_COL[src], ec='white', lw=0.5)
    ftext(641, y0 + 6.8, src, fontsize=5.2, ha='left', va='center')

fig.savefig('out.png', dpi=100)
